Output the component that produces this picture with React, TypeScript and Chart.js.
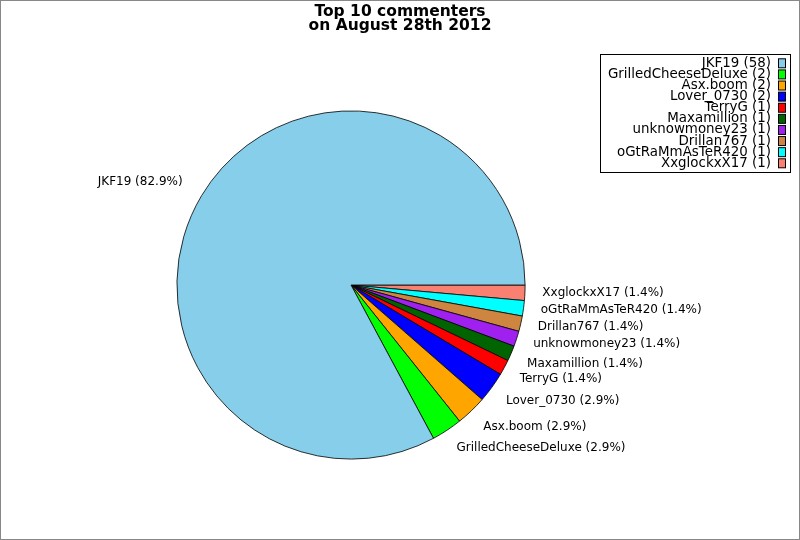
import React, { useEffect, useRef } from "react";
import { Chart, registerables } from "chart.js";

Chart.register(...registerables);

const names = [
  "JKF19",
  "GrilledCheeseDeluxe",
  "Asx.boom",
  "Lover_0730",
  "TerryG",
  "Maxamillion",
  "unknowmoney23",
  "Drillan767",
  "oGtRaMmAsTeR420",
  "XxglockxX17",
];
const counts = [58, 2, 2, 2, 1, 1, 1, 1, 1, 1];
const colors = [
  "#87CEEB",
  "#00FF00",
  "#FFA500",
  "#0000FF",
  "#FF0000",
  "#006400",
  "#A020F0",
  "#CD853F",
  "#00FFFF",
  "#FA8072",
];
const titleLines = ["Top 10 commenters", "on August 28th 2012"];

const FONT = '"DejaVu Sans", sans-serif';

export default function App() {
  const ref = useRef<HTMLCanvasElement | null>(null);

  useEffect(() => {
    const canvas = ref.current;
    if (!canvas) return;
    document.body.style.margin = "0";
    const total = counts.reduce((a, b) => a + b, 0);
    // matplotlib draws counter-clockwise from 3 o'clock; Chart.js draws clockwise,
    // so feed the data reversed and start at 3 o'clock.
    const revNames = [...names].reverse();
    const revCounts = [...counts].reverse();
    const revColors = [...colors].reverse();

    const overlay = {
      id: "overlay",
      afterDraw(chart: any) {
        const ctx = chart.ctx as CanvasRenderingContext2D;
        ctx.save();
        // figure border
        ctx.strokeStyle = "#888888";
        ctx.lineWidth = 1;
        ctx.strokeRect(0.5, 0.5, 799, 539);

        // title
        ctx.fillStyle = "#000";
        ctx.font = `bold 15.5px ${FONT}`;
        ctx.textAlign = "center";
        ctx.textBaseline = "alphabetic";
        ctx.fillText(titleLines[0], 400, 16);
        ctx.fillText(titleLines[1], 400, 30);

        // slice labels
        const meta = chart.getDatasetMeta(0);
        ctx.font = `12px ${FONT}`;
        ctx.textBaseline = "middle";
        meta.data.forEach((arc: any, i: number) => {
          const mid = (arc.startAngle + arc.endAngle) / 2;
          const r = arc.outerRadius * 1.1;
          const c = Math.cos(mid);
          const s = Math.sin(mid);
          let x = arc.x + c * r;
          let y = arc.y + s * r;
          // small alignment nudges to mimic the original text placement
          if (c < 0) {
            x -= 4;
            y -= 5;
          } else if (s > 0.35) {
            y += 3.4;
          } else {
            y -= 0.6;
          }
          ctx.textAlign = c >= 0 ? "left" : "right";
          const pct = ((revCounts[i] / total) * 100).toFixed(1);
          ctx.fillStyle = "#000";
          ctx.fillText(`${revNames[i]} (${pct}%)`, x, y);
        });

        // legend
        const bx = 600.5, by = 54.5, bw = 190, bh = 118;
        ctx.fillStyle = "#fff";
        ctx.fillRect(bx, by, bw, bh);
        ctx.strokeStyle = "#000";
        ctx.lineWidth = 1;
        ctx.strokeRect(bx, by, bw, bh);
        ctx.font = `13.4px ${FONT}`;
        ctx.textAlign = "right";
        ctx.textBaseline = "middle";
        names.forEach((n, i) => {
          const cy = 63.3 + i * 11.11;
          ctx.fillStyle = "#000";
          ctx.fillText(`${n} (${counts[i]})`, 771, cy);
          ctx.fillStyle = colors[i];
          ctx.fillRect(778.5, cy - 4.5, 7, 9);
          ctx.strokeStyle = "#000";
          ctx.strokeRect(778.5, cy - 4.5, 7, 9);
        });
        ctx.restore();
      },
    };

    const chart = new Chart(canvas, {
      type: "pie",
      data: {
        labels: revNames,
        datasets: [
          {
            data: revCounts,
            backgroundColor: revColors,
            borderColor: "#000",
            borderWidth: 0.8,
          },
        ],
      },
      options: {
        responsive: false,
        animation: false,
        devicePixelRatio: 1,
        rotation: 90,
        layout: {
          padding: { left: 176.5, top: 110.5, right: 274.5, bottom: 80.5 },
        },
        plugins: {
          legend: { display: false },
          title: { display: false },
          tooltip: { enabled: false },
        },
      },
      plugins: [overlay],
    });
    return () => chart.destroy();
  }, []);

  return (
    <div style={{ position: "absolute", left: 0, top: 0, width: 800, height: 540, background: "#fff" }}>
      <canvas ref={ref} width={800} height={540} style={{ display: "block" }} />
    </div>
  );
}
